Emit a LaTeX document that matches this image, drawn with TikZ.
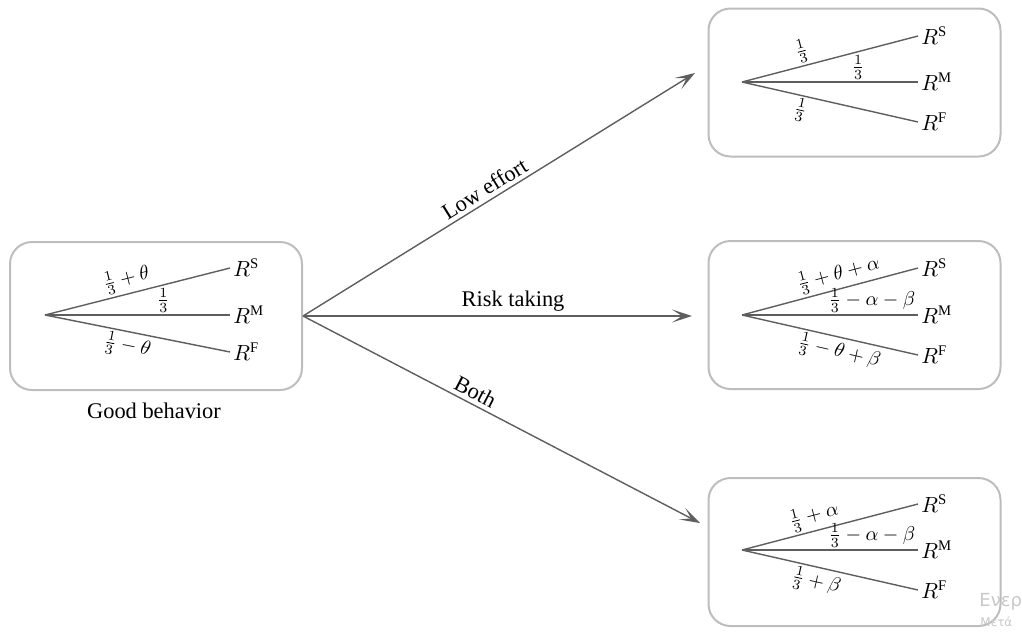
\documentclass[tikz,border=0pt]{standalone}
\usepackage{amsmath}
\usepackage{fontspec}
\setmainfont{Liberation Serif}
\newfontfamily\wmfont{DejaVu Sans}
\usetikzlibrary{arrows.meta}
\definecolor{linegray}{HTML}{5E5E5E}
\definecolor{boxgray}{HTML}{BDBDBD}
\definecolor{wmgray}{HTML}{C8C8C8}
\tikzset{
  box/.style={draw=boxgray, line width=1pt, rounded corners=11pt, minimum width=146pt, minimum height=74pt, inner sep=0pt},
  branch/.style={draw=linegray, line width=0.7pt},
  move/.style={draw=linegray, line width=0.7pt, -{Stealth[length=10pt,width=6.5pt,inset=5pt]}},
  rlab/.style={anchor=west, inner sep=1.5pt, font=\fontsize{10.5}{12}\selectfont},
  plab/.style={font=\fontsize{9.8}{11}\selectfont, inner sep=1pt, text=black},
  mlab/.style={font=\fontsize{11.2}{13}\selectfont, inner sep=2pt},
}
\newcommand{\thr}{\tfrac{1}{3}}
\begin{document}
\begin{tikzpicture}[x=0.5pt,y=-0.5pt]
\useasboundingbox (0,0) rectangle (1022,633);
% boxes
\node[box] (L) at (156,316) {};
\node[box] (T) at (854.5,82.5) {};
\node[box] (M) at (854.5,315) {};
\node[box] (B) at (854.5,552) {};
\node[font=\fontsize{11.2}{13}\selectfont] (gb) at (154,411) {Good behavior};
% left tree
\coordinate (vL) at (45,315);
\coordinate (eLS) at (230,268);
\coordinate (eLM) at (230,315);
\coordinate (eLF) at (230,352);
\node[rlab] (LS) at (eLS) {$R^{\mathrm{S}}$};
\node[rlab] (LM) at (eLM) {$R^{\mathrm{M}}$};
\node[rlab] (LF) at (eLF) {$R^{\mathrm{F}}$};
\draw[branch] (vL) -- node[plab, sloped, above, pos=0.46] (lLS) {$\thr+\theta$} (eLS);
\draw[branch] (vL) -- node[plab, above, pos=0.64] (lLM) {$\thr$} (eLM);
\draw[branch] (vL) -- node[plab, sloped, below, pos=0.46] (lLF) {$\thr-\theta$} (eLF);
% top tree
\coordinate (vT) at (742,82);
\coordinate (eTS) at (918,36);
\coordinate (eTM) at (918,82);
\coordinate (eTF) at (918,122);
\node[rlab] (TS) at (eTS) {$R^{\mathrm{S}}$};
\node[rlab] (TM) at (eTM) {$R^{\mathrm{M}}$};
\node[rlab] (TF) at (eTF) {$R^{\mathrm{F}}$};
\draw[branch] (vT) -- node[plab, sloped, above, pos=0.36] (lTS) {$\thr$} (eTS);
\draw[branch] (vT) -- node[plab, above, pos=0.66] (lTM) {$\thr$} (eTM);
\draw[branch] (vT) -- node[plab, sloped, below, pos=0.35] (lTF) {$\thr$} (eTF);
% middle tree
\coordinate (vM) at (742,315);
\coordinate (eMS) at (918,268);
\coordinate (eMM) at (918,315);
\coordinate (eMF) at (918,355);
\node[rlab] (MS) at (eMS) {$R^{\mathrm{S}}$};
\node[rlab] (MM) at (eMM) {$R^{\mathrm{M}}$};
\node[rlab] (MF) at (eMF) {$R^{\mathrm{F}}$};
\draw[branch] (vM) -- node[plab, sloped, above, pos=0.57] (lMS) {$\thr+\theta+\alpha$} (eMS);
\draw[branch] (vM) -- node[plab, above left, pos=1] (lMM) {$\thr-\alpha-\beta$} (eMM);
\draw[branch] (vM) -- node[plab, sloped, below, pos=0.57] (lMF) {$\thr-\theta+\beta$} (eMF);
% bottom tree
\coordinate (vB) at (742,550);
\coordinate (eBS) at (918,504);
\coordinate (eBM) at (918,550);
\coordinate (eBF) at (918,590);
\node[rlab] (BS) at (eBS) {$R^{\mathrm{S}}$};
\node[rlab] (BM) at (eBM) {$R^{\mathrm{M}}$};
\node[rlab] (BF) at (eBF) {$R^{\mathrm{F}}$};
\draw[branch] (vB) -- node[plab, sloped, above, pos=0.43] (lBS) {$\thr+\alpha$} (eBS);
\draw[branch] (vB) -- node[plab, above left, pos=1] (lBM) {$\thr-\alpha-\beta$} (eBM);
\draw[branch] (vB) -- node[plab, sloped, below, pos=0.44] (lBF) {$\thr+\beta$} (eBF);
% moves
\coordinate (tipT) at (695,73);
\coordinate (tipM) at (692,316);
\coordinate (tipB) at (700,523);
\draw[move] (L.east) -- node[mlab, sloped, above, pos=0.48] (mT) {Low effort} (tipT);
\draw[move] (L.east) -- node[mlab, above, pos=0.54] (mM) {Risk taking} (tipM);
\draw[move] (L.east) -- node[mlab, sloped, above, pos=0.42] (mB) {Both} (tipB);
% watermark
\node[anchor=west, text=wmgray, font=\wmfont\fontsize{9}{10}\selectfont, inner sep=0pt] (wm1) at (979,602) {Ενερ};
\node[anchor=west, text=wmgray, font=\wmfont\fontsize{6}{7}\selectfont, inner sep=0pt] (wm2) at (980,622) {Μετά};
\end{tikzpicture}
\end{document}
